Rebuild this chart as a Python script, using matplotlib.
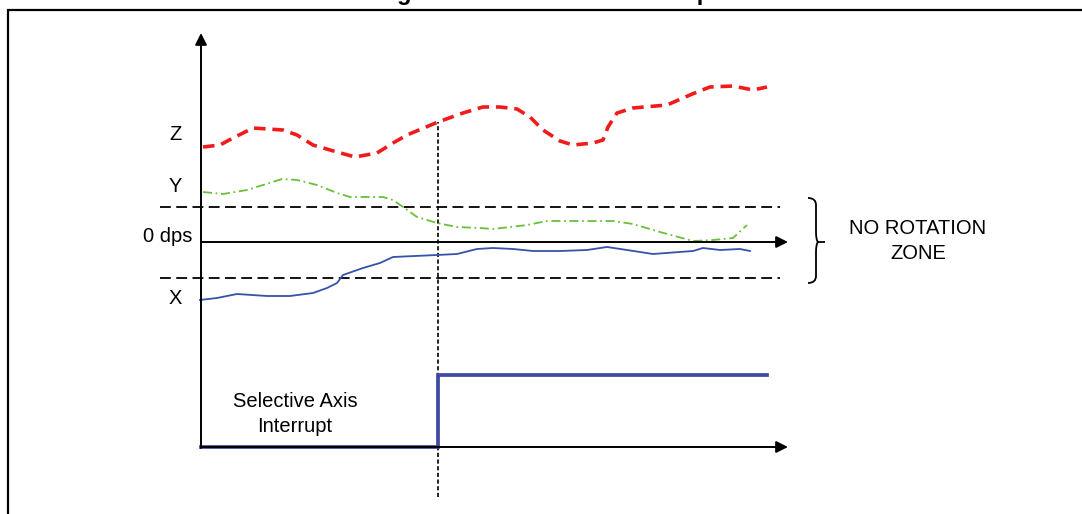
import matplotlib
matplotlib.use("Agg")
import matplotlib.pyplot as plt
from matplotlib.path import Path
from matplotlib.patches import PathPatch

plt.rcParams['font.family'] = ['Liberation Sans', 'DejaVu Sans']

# time axis (x) and signal level (y), 0 dps at y = 0
z_t = [2, 19, 32, 52, 82, 96, 112, 136, 154, 176, 192, 206, 237, 262, 282, 299,
       316, 329, 342, 359, 372, 392, 402, 407, 416, 432, 466, 482, 496, 509, 532, 552, 566]
z_v = [95, 97, 104, 114, 112, 107, 97, 90, 85, 89, 99, 107, 120, 129, 135, 135,
       133, 125, 112, 101, 97, 99, 102, 115, 129, 134, 137, 144, 150, 155, 156, 152, 155]

y_t = [2, 22, 46, 62, 81, 96, 116, 136, 149, 182, 192, 202, 216, 236, 256, 279,
       292, 326, 346, 412, 432, 459, 492, 512, 532, 546]
y_v = [50, 48, 52, 57, 63, 62, 57, 49, 45, 45, 42, 35, 25, 19, 15, 14,
       13, 17, 21, 21, 18, 10, 1, 2, 4, 17]

x_t = [-1, 16, 36, 66, 89, 112, 126, 136, 142, 162, 179, 192, 236, 256, 276, 292,
       312, 332, 359, 386, 406, 426, 452, 492, 502, 519, 539, 549]
x_v = [-58, -56, -52, -54, -54, -51, -46, -41, -33, -26, -21, -15, -13, -12, -7, -6,
       -7, -9, -9, -8, -5, -8, -12, -9, -6, -8, -7, -9]

int_t = [0, 237, 237, 566]
int_v = [-205, -205, -133, -133]

zone_hi, zone_lo = 35, -36
trigger_t = 237

fig = plt.figure(figsize=(10.82, 5.14), dpi=100)
ax = fig.add_axes([0, 0, 1, 1])
ax.set_xlim(-201, 881)
ax.set_ylim(242 - 514, 242)
ax.axis('off')

# outer frame (partly cropped, like the source page)
ax.plot([-193.5, -193.5, 900], [-300, 232.5, 232.5], color='black', lw=1.6,
        solid_joinstyle='miter', clip_on=False)
ax.text(346, 242, 'Figure 7. No Rotation Interrupt', ha='center', va='baseline',
        fontsize=17, fontweight='bold')

# axes with arrows
arr = dict(arrowstyle='-|>,head_length=0.7,head_width=0.35', color='black', lw=1.4,
           shrinkA=0, shrinkB=0)
ax.annotate('', xy=(0, 209), xytext=(0, -206), arrowprops=arr)
ax.annotate('', xy=(587, 0), xytext=(0, 0), arrowprops=arr)
ax.annotate('', xy=(587, -205), xytext=(0, -205), arrowprops=arr)

# no rotation zone limits
for lvl in (zone_hi, zone_lo):
    ax.plot([-41, 579], [lvl, lvl], color='black', lw=1.3, dashes=(6, 3))

# trigger marker
ax.plot([trigger_t, trigger_t], [-255, 120], color='black', lw=1.2, dashes=(2.5, 1.5))

# signals
ax.plot(z_t, z_v, color='#f21b1b', lw=2.6, dashes=(3.2, 1.9))
ax.plot(y_t, y_v, color='#6abf3a', lw=1.3, dashes=(5, 2, 1, 2))
ax.plot(x_t, x_v, color='#3553a8', lw=1.3)
ax.plot(int_t, int_v, color='#3f4aa0', lw=2.7, solid_joinstyle='miter')

# labels
fs = 14.5
ax.text(-26, 107, 'Z', ha='center', va='center', fontsize=fs)
ax.text(-26, 55, 'Y', ha='center', va='center', fontsize=fs)
ax.text(-33, 5, '0 dps', ha='center', va='center', fontsize=fs)
ax.text(-26, -57, 'X', ha='center', va='center', fontsize=fs)
ax.text(94, -172, 'Selective Axis\nInterrupt', ha='center', va='center',
        fontsize=fs, linespacing=1.4)
ax.text(717, 1, 'NO ROTATION\nZONE', ha='center', va='center', fontsize=fs,
        linespacing=1.4)

# brace
bx, top, bot = 607, 44, -41
verts = [(bx, top), (bx + 8, top), (bx + 8, top - 7), (bx + 8, 10),
         (bx + 8, 2), (bx + 10, 0), (bx + 17, 0),
         (bx + 10, 0), (bx + 8, -2), (bx + 8, -10),
         (bx + 8, bot + 7), (bx + 8, bot), (bx, bot)]
codes = [Path.MOVETO, Path.CURVE3, Path.CURVE3, Path.LINETO,
         Path.CURVE3, Path.CURVE3, Path.LINETO,
         Path.MOVETO, Path.CURVE3, Path.CURVE3, Path.LINETO,
         Path.CURVE3, Path.CURVE3]
ax.add_patch(PathPatch(Path(verts, codes), fill=False, lw=1.3, color='black'))

fig.savefig('out.png', dpi=100)
